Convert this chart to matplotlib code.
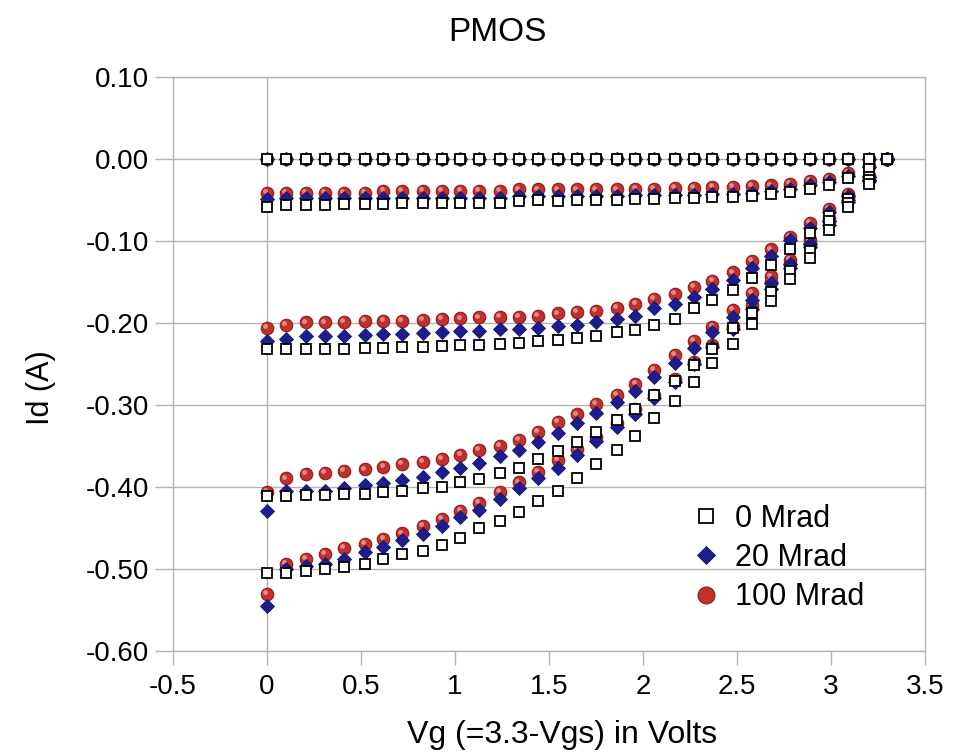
import matplotlib
matplotlib.use("Agg")
import matplotlib.pyplot as plt
from matplotlib.ticker import FuncFormatter
from matplotlib.transforms import offset_copy

plt.rcParams['font.family'] = ['Liberation Sans', 'DejaVu Sans']
plt.rcParams['axes.unicode_minus'] = False

# Vg values (V)
vg = [0.0, 0.10, 0.21, 0.31, 0.41, 0.52, 0.62, 0.72, 0.83, 0.93, 1.03,
      1.13, 1.24, 1.34, 1.44, 1.55, 1.65, 1.75, 1.86, 1.96, 2.06, 2.17,
      2.27, 2.37, 2.48, 2.58, 2.68, 2.78, 2.89, 2.99, 3.09, 3.20, 3.30]

zeros = [0.0, 0.0, 0.0, 0.0, 0.0, 0.0, 0.0, 0.0, 0.0, 0.0, 0.0,
         0.0, 0.0, 0.0, 0.0, 0.0, 0.0, 0.0, 0.0, 0.0, 0.0, 0.0,
         0.0, 0.0, 0.0, 0.0, 0.0, 0.0, 0.0, 0.0, 0.0, 0.0, 0.0]

# 0 Mrad
id0_2 = [-0.058, -0.056, -0.056, -0.056, -0.055, -0.055, -0.055, -0.054, -0.054, -0.054, -0.053,
         -0.053, -0.053, -0.051, -0.050, -0.051, -0.050, -0.050, -0.050, -0.049, -0.049, -0.047,
         -0.047, -0.046, -0.046, -0.045, -0.043, -0.040, -0.036, -0.032, -0.023, -0.012, 0.0]
id0_3 = [-0.232, -0.232, -0.232, -0.231, -0.231, -0.230, -0.230, -0.229, -0.229, -0.228, -0.227,
         -0.227, -0.225, -0.224, -0.222, -0.220, -0.218, -0.216, -0.211, -0.208, -0.202, -0.195,
         -0.182, -0.172, -0.160, -0.145, -0.129, -0.109, -0.090, -0.069, -0.049, -0.022, 0.0]
id0_4 = [-0.410, -0.410, -0.409, -0.409, -0.408, -0.408, -0.406, -0.405, -0.401, -0.399, -0.394,
         -0.390, -0.383, -0.376, -0.366, -0.356, -0.345, -0.333, -0.318, -0.305, -0.287, -0.270,
         -0.251, -0.232, -0.206, -0.187, -0.162, -0.136, -0.112, -0.076, -0.054, -0.026, 0.0]
id0_5 = [-0.504, -0.504, -0.502, -0.499, -0.497, -0.493, -0.487, -0.481, -0.477, -0.470, -0.462,
         -0.449, -0.441, -0.430, -0.417, -0.404, -0.388, -0.372, -0.354, -0.337, -0.316, -0.295,
         -0.272, -0.249, -0.225, -0.201, -0.173, -0.146, -0.120, -0.087, -0.058, -0.030, 0.0]

# 20 Mrad
id20_2 = [-0.049, -0.048, -0.048, -0.048, -0.048, -0.048, -0.047, -0.047, -0.047, -0.047, -0.047,
          -0.047, -0.047, -0.045, -0.045, -0.045, -0.045, -0.045, -0.045, -0.044, -0.044, -0.044,
          -0.044, -0.043, -0.043, -0.041, -0.039, -0.036, -0.032, -0.028, -0.020, -0.010, 0.0]
id20_3 = [-0.222, -0.219, -0.216, -0.216, -0.215, -0.214, -0.213, -0.213, -0.212, -0.211, -0.210,
          -0.209, -0.207, -0.207, -0.206, -0.203, -0.202, -0.199, -0.195, -0.191, -0.182, -0.176,
          -0.168, -0.158, -0.147, -0.133, -0.118, -0.099, -0.084, -0.065, -0.045, -0.022, 0.0]
id20_4 = [-0.429, -0.405, -0.405, -0.404, -0.401, -0.397, -0.395, -0.391, -0.387, -0.381, -0.376,
          -0.370, -0.362, -0.355, -0.345, -0.334, -0.322, -0.309, -0.296, -0.282, -0.266, -0.248,
          -0.230, -0.211, -0.193, -0.172, -0.151, -0.128, -0.103, -0.075, -0.050, -0.025, 0.0]
id20_5 = [-0.545, -0.500, -0.496, -0.493, -0.487, -0.479, -0.473, -0.464, -0.457, -0.447, -0.436,
          -0.427, -0.414, -0.401, -0.389, -0.376, -0.360, -0.344, -0.327, -0.310, -0.291, -0.272,
          -0.250, -0.229, -0.207, -0.183, -0.158, -0.133, -0.107, -0.080, -0.052, -0.027, 0.0]

# 100 Mrad
id100_2 = [-0.041, -0.041, -0.041, -0.041, -0.041, -0.041, -0.039, -0.039, -0.039, -0.039, -0.039,
           -0.039, -0.039, -0.037, -0.037, -0.037, -0.037, -0.037, -0.037, -0.036, -0.036, -0.035,
           -0.035, -0.034, -0.034, -0.033, -0.032, -0.030, -0.027, -0.024, -0.017, -0.008, 0.0]
id100_3 = [-0.206, -0.202, -0.199, -0.199, -0.198, -0.197, -0.197, -0.197, -0.196, -0.195, -0.194,
           -0.193, -0.192, -0.192, -0.191, -0.188, -0.186, -0.185, -0.181, -0.176, -0.170, -0.164,
           -0.156, -0.148, -0.138, -0.124, -0.110, -0.095, -0.078, -0.061, -0.042, -0.020, 0.0]
id100_4 = [-0.406, -0.389, -0.384, -0.382, -0.380, -0.378, -0.375, -0.371, -0.369, -0.365, -0.360,
           -0.354, -0.349, -0.342, -0.332, -0.320, -0.311, -0.298, -0.287, -0.274, -0.257, -0.239,
           -0.222, -0.204, -0.184, -0.163, -0.143, -0.123, -0.099, -0.072, -0.045, -0.022, 0.0]
id100_5 = [-0.530, -0.493, -0.487, -0.481, -0.474, -0.469, -0.463, -0.456, -0.447, -0.438, -0.429,
           -0.419, -0.406, -0.394, -0.381, -0.367, -0.353, -0.339, -0.322, -0.304, -0.287, -0.268,
           -0.247, -0.227, -0.203, -0.178, -0.150, -0.128, -0.103, -0.075, -0.047, -0.025, 0.0]

curves_0 = [zeros, id0_2, id0_3, id0_4, id0_5]
curves_20 = [zeros, id20_2, id20_3, id20_4, id20_5]
curves_100 = [zeros, id100_2, id100_3, id100_4, id100_5]

fig = plt.figure(figsize=(9.65, 7.53), dpi=100)
ax = fig.add_axes([0.179, 0.1348, 0.7795, 0.7629])

grid_c = '#b3b3b3'

# red balls (with a small highlight), then blue diamonds, then open squares on top
hl = offset_copy(ax.transData, fig=fig, x=-1.3, y=1.3, units='points')
for i, c in enumerate(curves_100):
    ax.plot(vg, c, linestyle='none', marker='o', markersize=9,
            markerfacecolor='#c0302c', markeredgecolor='#8e1b1b', markeredgewidth=0.8,
            zorder=3, label='100 Mrad' if i == 0 else None)
    ax.plot(vg, c, linestyle='none', marker='o', markersize=3.5,
            markerfacecolor='#ef9a96', markeredgewidth=0, alpha=0.85,
            transform=hl, zorder=3.1)
for i, c in enumerate(curves_20):
    ax.plot(vg, c, linestyle='none', marker='D', markersize=7,
            markerfacecolor='#1d1d8f', markeredgecolor='#14146e', markeredgewidth=0.6,
            zorder=4, label='20 Mrad' if i == 0 else None)
for i, c in enumerate(curves_0):
    ax.plot(vg, c, linestyle='none', marker='s', markersize=7.5,
            markerfacecolor='white', markeredgecolor='black', markeredgewidth=1.3,
            zorder=5, label='0 Mrad' if i == 0 else None)

ax.set_xlim(-0.5, 3.5)
ax.set_ylim(-0.6, 0.1)
ax.set_xticks([-0.5, 0, 0.5, 1, 1.5, 2, 2.5, 3, 3.5])
ax.set_yticks([-0.6, -0.5, -0.4, -0.3, -0.2, -0.1, 0.0, 0.1])
ax.xaxis.set_major_formatter(FuncFormatter(lambda v, p: '%g' % v))
ax.yaxis.set_major_formatter(FuncFormatter(lambda v, p: '%.2f' % v))

ax.grid(axis='y', color=grid_c, linewidth=1.0, zorder=0)
ax.axvline(0, color=grid_c, linewidth=1.0, zorder=1)
for s in ax.spines.values():
    s.set_color(grid_c)
    s.set_linewidth(1.0)
ax.tick_params(axis='both', colors=grid_c, labelcolor='black', labelsize=20, width=1.0)
ax.tick_params(axis='x', length=10, pad=6)
ax.tick_params(axis='y', length=13, pad=4)

h, l = ax.get_legend_handles_labels()
order = [l.index('0 Mrad'), l.index('20 Mrad'), l.index('100 Mrad')]
ax.legend([h[k] for k in order], [l[k] for k in order], frameon=False,
          loc='upper left', bbox_to_anchor=(0.672, 0.278), fontsize=22,
          handletextpad=0.45, labelspacing=0.3, handlelength=1.0, borderaxespad=0,
          markerscale=1.35)

fig.text(0.515, 0.957, 'PMOS', ha='center', va='center', fontsize=24)
fig.text(0.582, 0.024, 'Vg (=3.3-Vgs) in Volts', ha='center', va='center', fontsize=23)
fig.text(0.042, 0.485, 'Id (A)', ha='center', va='center', rotation=90, fontsize=22)

fig.savefig('out.png', dpi=100)
